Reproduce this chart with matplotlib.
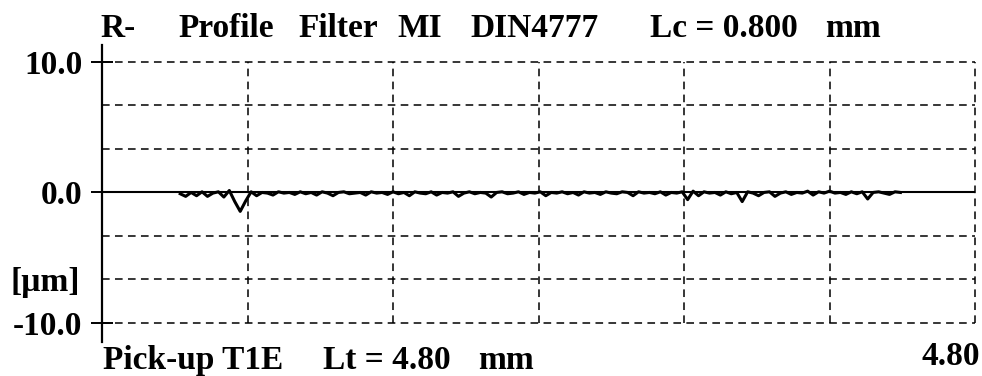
import numpy as np
import matplotlib
matplotlib.use("Agg")
import matplotlib.pyplot as plt

# ---- data ----
x_range = (0.0, 4.80)                      # mm
y_range_labels = [-10.0, 0.0, 10.0]        # µm
y_tick_text = ["-10.0", "0.0", "10.0"]
x_grid = [0.8, 1.6, 2.4, 3.2, 4.0, 4.8]
y_grid = [-10.0, -6.667, -3.333, 3.333, 6.667, 10.0]
profile_start = 0.43   # mm, where the measured trace begins
profile_end = 4.39     # mm, where it ends
profile_values = [
    -0.10, -0.30, 0.00, -0.25, 0.05, -0.30, -0.05, 0.05, -0.35,
    0.15, -0.70, -1.45, -0.65,
    0.05, -0.25, 0.00, -0.05, -0.20, 0.05, -0.05, 0.00, -0.15, 0.05,
    -0.10, 0.00, -0.20, 0.05, -0.05, -0.25, 0.00, 0.05, -0.10, -0.05,
    0.00, -0.20, 0.05, -0.05, 0.00, -0.15, 0.05, -0.10, 0.00, -0.25,
    0.05, -0.05, -0.10, 0.05, -0.20, 0.00, -0.05, 0.05, -0.30, -0.05,
    0.05, -0.10, 0.00, -0.05, -0.35, 0.00, 0.05, -0.10, -0.05, 0.05,
    -0.15, 0.00, -0.05, 0.05, -0.25, 0.00, -0.05, 0.05, -0.10, 0.00,
    -0.20, 0.05, -0.05, 0.00, -0.15, 0.05, -0.05, -0.10, 0.05, 0.00,
    -0.25, 0.05, -0.05, 0.00, -0.10, 0.05, -0.20, 0.00, -0.05, 0.05,
    -0.55, 0.10, -0.25, 0.05, -0.05, 0.00, -0.20, 0.05, -0.10, 0.00,
    -0.70, 0.05, -0.05, -0.25, 0.00, 0.05, -0.30, -0.05, 0.05, -0.15,
    0.00, -0.05, 0.10, -0.20, 0.05, -0.05, 0.10, -0.05, 0.00, -0.15,
    0.05, -0.10, 0.05, -0.50, 0.00, 0.05, -0.05, -0.15, 0.05, 0.00,
]
title_parts = ["R-", "Profile", "Filter", "MI", "DIN4777", "Lc = 0.800", "mm"]
footer_parts = ["Pick-up T1E", "Lt = 4.80", "mm"]
end_label = "4.80"
unit_label = "[µm]"

# ---- figure ----
W, H = 982, 376
fig = plt.figure(figsize=(W / 100, H / 100), dpi=100)
fig.patch.set_facecolor("white")

def fx(px):
    return px / W

def fy(py):
    return 1 - py / H

ax = fig.add_axes([fx(102), fy(342), fx(975) - fx(102), fy(45) - fy(342)])
ax.set_xlim(*x_range)
ax.set_ylim(-11.46, 11.3)

FONT = "Liberation Serif"
FS = 24

dash = (0, (5, 3.5))
ax.hlines(y_grid, x_range[0], x_range[1], colors="black", linewidth=1.1,
          linestyles=[dash], clip_on=False, zorder=1)
ax.vlines(x_grid, y_grid[0], y_grid[-1], colors="black", linewidth=1.1,
          linestyles=[dash], clip_on=False, zorder=1)

ax.axhline(0, color="black", linewidth=1.5, zorder=2)
px = np.linspace(profile_start, profile_end, len(profile_values))
ax.plot(px, profile_values, color="black", linewidth=2.2, zorder=3)

for s in ["top", "right", "bottom"]:
    ax.spines[s].set_visible(False)
ax.spines["left"].set_linewidth(1.6)

ax.set_xticks([])
ax.set_yticks(y_range_labels)
ax.set_yticklabels(y_tick_text, fontfamily=FONT, fontweight="bold", fontsize=FS)
ax.tick_params(axis="y", direction="inout", length=16, width=1.4, pad=6)

# title pieces
title_x = [100, 178, 298, 397, 470, 650, 825]
for t, x in zip(title_parts, title_x):
    fig.text(fx(x), fy(37), t, fontfamily=FONT, fontweight="bold", fontsize=FS,
             ha="left", va="baseline")

footer_x = [103, 323, 478]
for t, x in zip(footer_parts, footer_x):
    fig.text(fx(x), fy(369), t, fontfamily=FONT, fontweight="bold", fontsize=FS,
             ha="left", va="baseline")

fig.text(fx(980), fy(365), end_label, fontfamily=FONT, fontweight="bold",
         fontsize=FS, ha="right", va="baseline")
fig.text(fx(80), fy(282), unit_label, fontfamily=FONT, fontweight="bold",
         fontsize=FS, ha="right", va="center")

fig.savefig("out.png", dpi=100, facecolor="white")
